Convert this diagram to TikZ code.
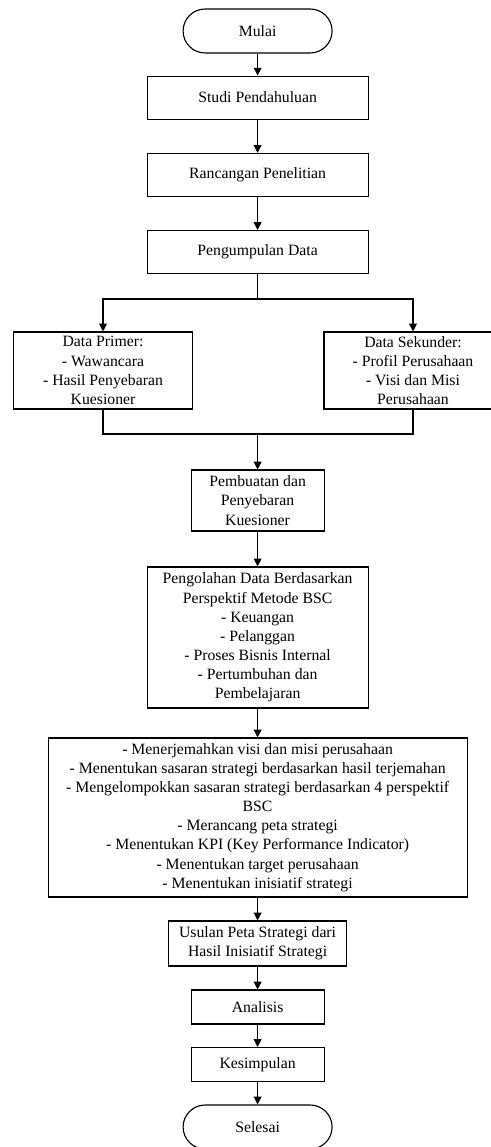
\documentclass[tikz,border=0pt]{standalone}
\usepackage{fontspec}
\setmainfont{Liberation Serif}
\usetikzlibrary{arrows.meta,positioning,calc}

\begin{document}
\begin{tikzpicture}[
        box/.style={draw,rectangle,line width=0.8pt,align=center,inner sep=1pt,font=\fontsize{11.2}{13.6}\selectfont},
        term/.style={box,rounded corners=0.55cm,minimum width=3.725cm,minimum height=1.1cm},
        ->/.style={draw,line width=0.8pt,-{Triangle[length=5.5pt,width=5.5pt]}}
    ]
        \useasboundingbox (0,0) rectangle (12.275,-28.675);

        % Start and first steps
        \node[term] (mulai) at (6.44,-0.775) {Mulai};
        \node[box,minimum width=5.525cm,minimum height=1.075cm] (studi) at (6.44,-2.44) {Studi Pendahuluan};
        \node[box,minimum width=5.525cm,minimum height=1.075cm] (rancangan) at (6.44,-4.375) {Rancangan Penelitian};
        \node[box,minimum width=5.525cm,minimum height=1.075cm] (pengumpulan) at (6.44,-6.3) {Pengumpulan Data};

        % Data sources
        \node[box,minimum width=4.475cm,minimum height=1.925cm] (primer) at (2.575,-9.2625) {Data Primer:\\- Wawancara\\- Hasil Penyebaran\\Kuesioner};
        \node[box,minimum width=4.45cm,minimum height=1.925cm] (sekunder) at (10.325,-9.2625) {Data Sekunder:\\- Profil Perusahaan\\- Visi dan Misi\\Perusahaan};
        \coordinate (split) at (6.44,-7.475);
        \coordinate (merge) at (6.44,-10.85);

        % Processing
        \node[box,minimum width=3.325cm,minimum height=1.525cm] (pembuatan) at (6.44,-12.5125) {Pembuatan dan\\Penyebaran\\Kuesioner};
        \node[box,minimum width=5.525cm,minimum height=3.525cm] (pengolahan) at (6.44,-15.9375) {Pengolahan Data Berdasarkan\\Perspektif Metode BSC\\- Keuangan\\- Pelanggan\\- Proses Bisnis Internal\\- Pertumbuhan dan\\Pembelajaran};
        \node[box,minimum width=10.475cm,minimum height=3.975cm] (langkah) at (6.44,-20.4375) {- Menerjemahkan visi dan misi perusahaan\\- Menentukan sasaran strategi berdasarkan hasil terjemahan\\- Mengelompokkan sasaran strategi berdasarkan 4 perspektif\\BSC\\- Merancang peta strategi\\- Menentukan KPI (Key Performance Indicator)\\- Menentukan target perusahaan\\- Menentukan inisiatif strategi};

        % Result and end
        \node[box,minimum width=4.45cm,minimum height=1.125cm] (usulan) at (6.44,-23.5875) {Usulan Peta Strategi dari\\Hasil Inisiatif Strategi};
        \node[box,minimum width=3.325cm,minimum height=0.85cm] (analisis) at (6.44,-25.175) {Analisis};
        \node[box,minimum width=3.325cm,minimum height=0.85cm] (kesimpulan) at (6.44,-26.6125) {Kesimpulan};
        \node[term] (selesai) at (6.44,-28.175) {Selesai};

        % Arrows
        \foreach \a/\b in {mulai/studi,studi/rancangan,rancangan/pengumpulan,pembuatan/pengolahan,pengolahan/langkah,langkah/usulan,usulan/analisis,analisis/kesimpulan,kesimpulan/selesai} {
            \draw[->] (\a) -- (\b);
        }
        \draw[line width=0.8pt] (pengumpulan) -- (split);
        \draw[->] (split) -| (primer.north);
        \draw[->] (split) -| (sekunder.north);
        \draw[line width=0.8pt] (primer.south) |- (merge);
        \draw[line width=0.8pt] (sekunder.south) |- (merge);
        \draw[->] (merge) -- (pembuatan);
    \end{tikzpicture}
\end{document}
